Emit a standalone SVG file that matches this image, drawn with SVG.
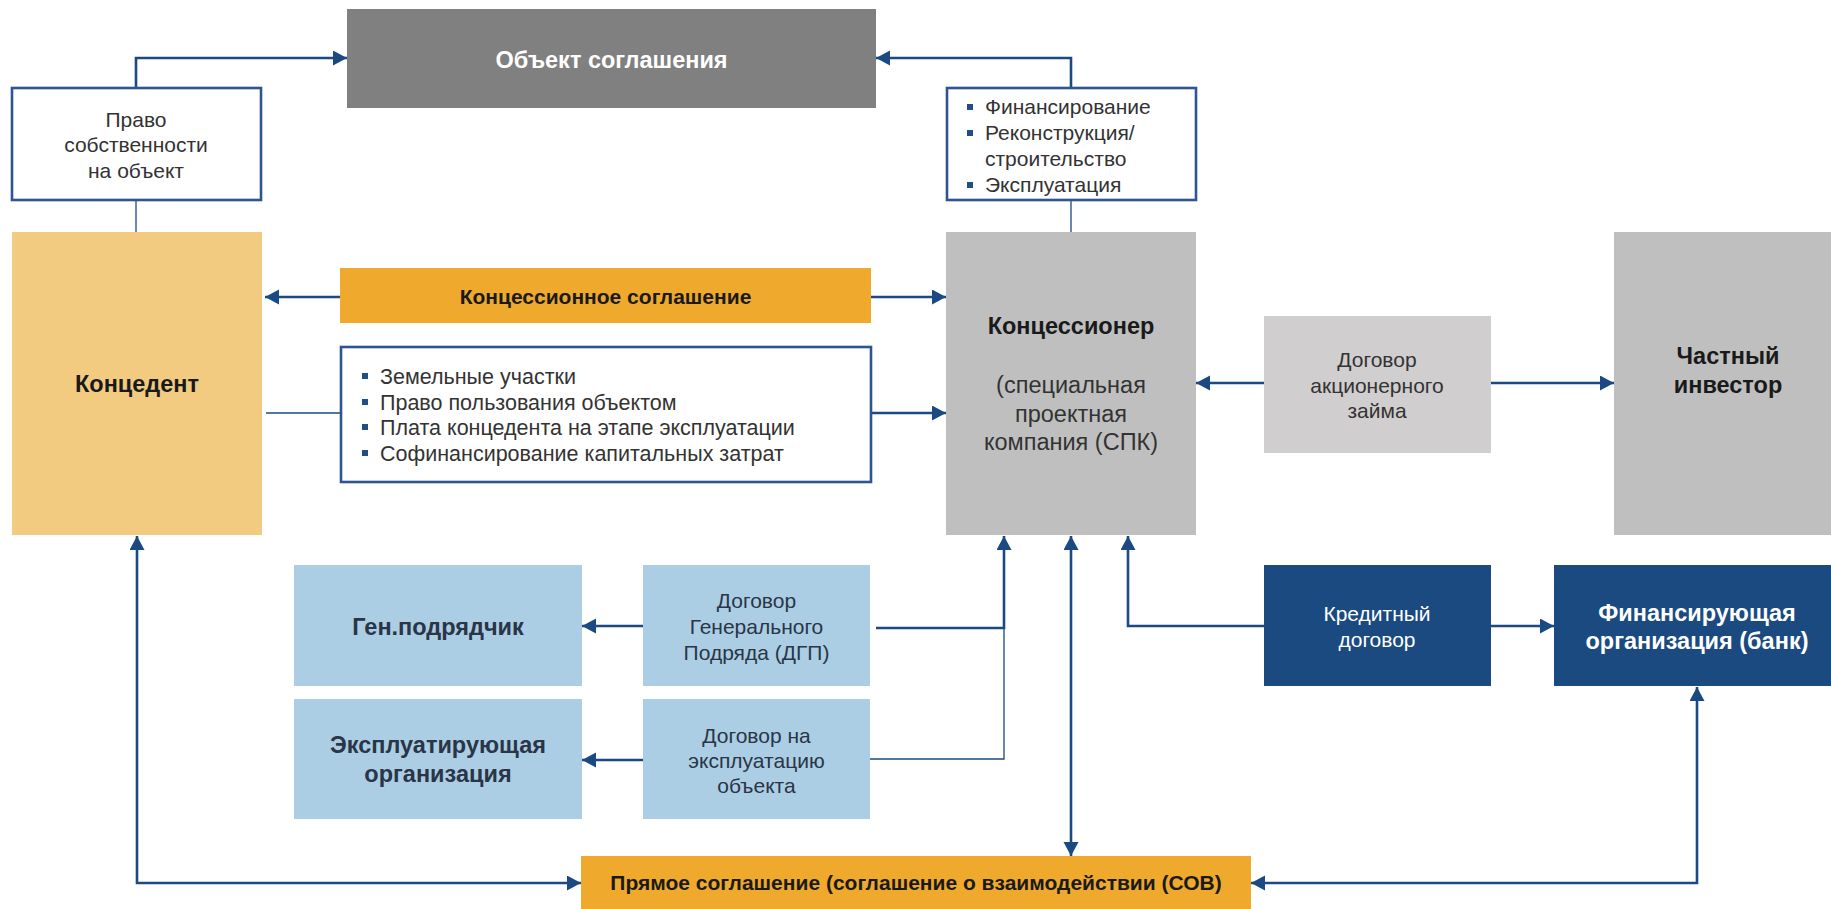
<svg xmlns="http://www.w3.org/2000/svg" width="1831" height="909" viewBox="0 0 1831 909">
<defs>
<marker id="ah" markerUnits="userSpaceOnUse" markerWidth="16" markerHeight="16" refX="14" refY="7.5" orient="auto-start-reverse">
<path d="M0,0 L14,7.5 L0,15 z" fill="#1B4A82"/>
</marker>
</defs>
<style>
text{font-family:"Liberation Sans",Arial,sans-serif}
.t{font-size:21px;fill:#333333}
.tc{text-anchor:middle}
.b{font-weight:bold}
.big{font-size:23.5px}
.ob{font-size:21.5px}
.dk{fill:#1A1A1A}
.nv{fill:#2A3547}
.w{fill:#FFFFFF}
.con{fill:none;stroke:#1B4A82;stroke-width:2.6}
.thin{fill:none;stroke:#1B4A82;stroke-width:1.3}
.arr{marker-end:url(#ah)}
.both{marker-start:url(#ah);marker-end:url(#ah)}
.frame{fill:#FFFFFF;stroke:#2C5592;stroke-width:2.6}
.bul{fill:#1F4E89}
</style>
<rect width="1831" height="909" fill="#FFFFFF"/>

<g id="connectors">
<path class="con arr" d="M136,87 V58 H347"/>
<path class="con arr" d="M1071,87 V58 H876"/>
<path class="thin" d="M136,200 V232"/>
<path class="thin" d="M1071,200 V232"/>
<path class="con arr" d="M340,297 H265"/>
<path class="con arr" d="M871,297 H946"/>
<path class="thin" d="M266,413 H340"/>
<path class="con arr" d="M871,413 H946"/>
<path class="con arr" d="M1264,383 H1196"/>
<path class="con arr" d="M1491,383 H1614"/>
<path class="con arr" d="M643,626 H582"/>
<path class="thin" d="M870,759 H1004 V628"/>
<path class="con arr" d="M876,628 H1004 V536"/>
<path class="con arr" d="M643,760 H582"/>
<path class="con arr" d="M1264,626 H1128 V536"/>
<path class="con arr" d="M1491,626 H1554"/>
<path class="con both" d="M1071,536 V856"/>
<path class="con both" d="M137,536 V883 H581"/>
<path class="con both" d="M1697,687 V883 H1251"/>
</g>

<g id="obj">
<rect x="347" y="9" width="529" height="99" fill="#808080"/>
<text class="t b big w tc" x="611.5" y="68">Объект соглашения</text>
</g>

<g id="pravo">
<rect class="frame" x="12" y="88" width="249" height="112"/>
<text class="t tc" x="136" y="127">Право</text>
<text class="t tc" x="136" y="152">собственности</text>
<text class="t tc" x="136" y="178">на объект</text>
</g>

<g id="functions">
<rect class="frame" x="947" y="88" width="249" height="112"/>
<rect class="bul" x="967" y="104" width="6" height="6"/>
<rect class="bul" x="967" y="130" width="6" height="6"/>
<rect class="bul" x="967" y="182" width="6" height="6"/>
<text class="t" x="985" y="114">Финансирование</text>
<text class="t" x="985" y="140">Реконструкция/</text>
<text class="t" x="985" y="166">строительство</text>
<text class="t" x="985" y="192">Эксплуатация</text>
</g>

<g id="koncedent">
<rect x="12" y="232" width="250" height="303" fill="#F3CB80"/>
<text class="t b big dk tc" x="137" y="392">Концедент</text>
</g>

<g id="konc-sogl">
<rect x="340" y="268" width="531" height="55" fill="#EFA92C"/>
<text class="t b dk tc" x="605.5" y="304">Концессионное соглашение</text>
</g>

<g id="obligations">
<rect class="frame" x="341" y="347" width="530" height="135"/>
<rect class="bul" x="362" y="373" width="6" height="6"/>
<rect class="bul" x="362" y="399" width="6" height="6"/>
<rect class="bul" x="362" y="424" width="6" height="6"/>
<rect class="bul" x="362" y="450" width="6" height="6"/>
<text class="t ob" x="380" y="384">Земельные участки</text>
<text class="t ob" x="380" y="410">Право пользования объектом</text>
<text class="t ob" x="380" y="435">Плата концедента на этапе эксплуатации</text>
<text class="t ob" x="380" y="461">Софинансирование капитальных затрат</text>
</g>

<g id="koncessioner">
<rect x="946" y="232" width="250" height="303" fill="#BFBFBF"/>
<text class="t b big dk tc" x="1071" y="334">Концессионер</text>
<text class="t big tc" x="1071" y="393">(специальная</text>
<text class="t big tc" x="1071" y="422">проектная</text>
<text class="t big tc" x="1071" y="450">компания (СПК)</text>
</g>

<g id="akc-zaim">
<rect x="1264" y="316" width="227" height="137" fill="#D0CECE"/>
<text class="t tc" x="1377" y="367">Договор</text>
<text class="t tc" x="1377" y="393">акционерного</text>
<text class="t tc" x="1377" y="418">займа</text>
</g>

<g id="investor">
<rect x="1614" y="232" width="217" height="303" fill="#BFBFBF"/>
<text class="t b big dk tc" x="1728" y="364">Частный</text>
<text class="t b big dk tc" x="1728" y="393">инвестор</text>
</g>

<g id="genpodr">
<rect x="294" y="565" width="288" height="121" fill="#ABCEE4"/>
<text class="t b big nv tc" x="438" y="635">Ген.подрядчик</text>
</g>

<g id="dgp">
<rect x="643" y="565" width="227" height="121" fill="#ABCEE4"/>
<text class="t nv tc" x="756.5" y="608">Договор</text>
<text class="t nv tc" x="756.5" y="634">Генерального</text>
<text class="t nv tc" x="756.5" y="660">Подряда (ДГП)</text>
</g>

<g id="expl-org">
<rect x="294" y="699" width="288" height="120" fill="#ABCEE4"/>
<text class="t b big nv tc" x="438" y="753">Эксплуатирующая</text>
<text class="t b big nv tc" x="438" y="782">организация</text>
</g>

<g id="expl-dog">
<rect x="643" y="699" width="227" height="120" fill="#ABCEE4"/>
<text class="t nv tc" x="756.5" y="743">Договор на</text>
<text class="t nv tc" x="756.5" y="768">эксплуатацию</text>
<text class="t nv tc" x="756.5" y="793">объекта</text>
</g>

<g id="kredit">
<rect x="1264" y="565" width="227" height="121" fill="#1A4A80"/>
<text class="t w tc" x="1377" y="621">Кредитный</text>
<text class="t w tc" x="1377" y="647">договор</text>
</g>

<g id="bank">
<rect x="1554" y="565" width="277" height="121" fill="#1A4A80"/>
<text class="t b big w tc" x="1697" y="621">Финансирующая</text>
<text class="t b big w tc" x="1697" y="649">организация (банк)</text>
</g>

<g id="pryamoe">
<rect x="581" y="856" width="670" height="53" fill="#EFA92C"/>
<text class="t b dk tc" x="916" y="890">Прямое соглашение (соглашение о взаимодействии (СОВ)</text>
</g>
</svg>
